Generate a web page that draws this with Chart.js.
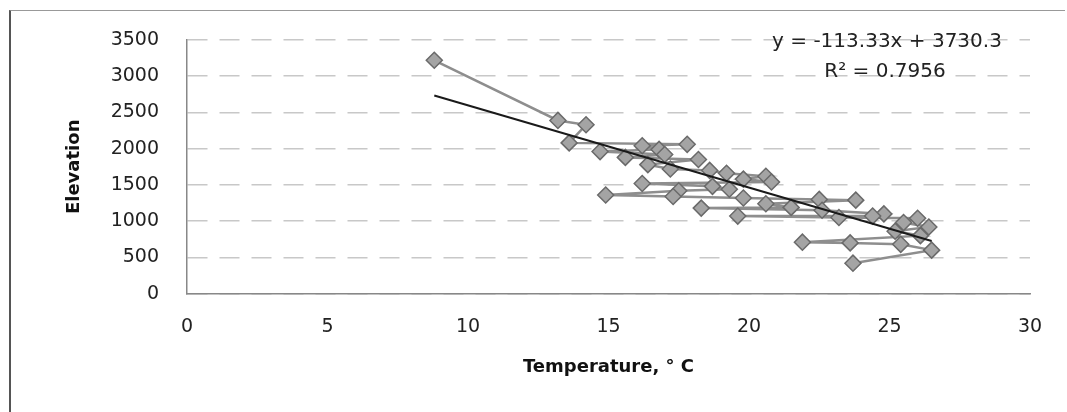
<!DOCTYPE html>
<html>
<head>
<meta charset="utf-8">
<script src="https://cdn.jsdelivr.net/npm/chart.js@4.4.1/dist/chart.umd.min.js"></script>
<style>
  html,body{margin:0;padding:0;background:#fff;}
  #wrap{position:relative;width:1067px;height:412px;overflow:hidden;}
  #frame{position:absolute;left:9px;top:10px;width:1056px;height:410px;border-left:2px solid #555;border-top:1px solid #999;box-sizing:border-box;}
  canvas{position:absolute;left:0;top:0;}
  .eq{position:absolute;font-family:"DejaVu Sans",sans-serif;font-size:20px;color:#222;text-align:center;width:300px;line-height:24px;}
</style>
</head>
<body>
<div id="wrap">
  <div id="frame"></div>
  <canvas id="c" width="1067" height="412"></canvas>
  <div class="eq" style="left:737px;top:28px;">y = -113.33x + 3730.3</div>
  <div class="eq" style="left:735px;top:58px;">R² = 0.7956</div>
</div>
<script>
// Temperature (°C) and elevation, in the order the series connects them
const temperatures = [8.8,13.2,14.2,13.6,17.8,16.2,16.8,14.7,17.0,15.6,18.2,16.4,17.2,18.6,19.2,20.6,19.8,20.8,16.2,18.7,19.3,17.5,14.9,17.3,19.8,22.5,23.8,20.6,21.5,18.3,22.6,24.8,24.4,19.6,23.2,26.0,25.5,26.4,25.2,26.1,21.9,23.6,25.4,26.5,23.7];
const elevations   = [3220,2390,2330,2080,2060,2040,1990,1960,1920,1880,1850,1780,1720,1700,1660,1620,1580,1540,1520,1480,1440,1420,1360,1340,1320,1300,1290,1240,1190,1180,1150,1100,1070,1070,1050,1040,980,920,860,800,710,700,680,600,420];
const xTicks = [0,5,10,15,20,25,30];
const yTicks = [0,500,1000,1500,2000,2500,3000,3500];
const trendSlope = -113.33;
const trendIntercept = 3730.3;

const points = temperatures.map((t,i)=>({x:t,y:elevations[i]}));
const tMin = Math.min(...temperatures), tMax = Math.max(...temperatures);
const trend = [tMin,tMax].map(t=>({x:t,y:trendSlope*t+trendIntercept}));

const font = {family:"'DejaVu Sans',sans-serif", size:19};
const titleFont = {family:"'DejaVu Sans',sans-serif", size:18, weight:'bold'};

new Chart(document.getElementById('c'),{
  type:'scatter',
  data:{datasets:[
    {data:trend,showLine:true,borderColor:'#1a1a1a',borderWidth:2,pointRadius:0,order:0},
    {data:points,showLine:true,borderColor:'#8e8e8e',borderWidth:2.5,
     pointStyle:'rectRot',pointRadius:8,pointBackgroundColor:'#a4a4a4',pointBorderColor:'#6a6a6a',pointBorderWidth:1.5,order:1}
  ]},
  options:{
    responsive:false,animation:false,
    layout:{padding:{left:60,top:40,right:37,bottom:30}},
    plugins:{legend:{display:false},tooltip:{enabled:false}},
    scales:{
      x:{type:'linear',min:0,max:30,
        afterBuildTicks:(s)=>{s.ticks=xTicks.map(v=>({value:v}));},
        ticks:{color:'#222',font:font,padding:22,maxRotation:0,callback:(v)=>String(v)},
        grid:{display:false,drawTicks:false},
        border:{display:true,color:'#888',width:1.5},
        title:{display:true,text:'Temperature, ° C',color:'#111',font:titleFont,padding:{top:-4}}
      },
      y:{type:'linear',min:0,max:3500,
        afterBuildTicks:(s)=>{s.ticks=yTicks.map(v=>({value:v}));},
        afterFit:(s)=>{s.width=127;},
        ticks:{color:'#222',font:font,padding:28,callback:(v)=>String(v)},
        grid:{color:'#c8c8c8',lineWidth:1.5,drawTicks:false},
        border:{display:true,color:'#888',width:1.5,dash:[20,12]},
        title:{display:true,text:'Elevation',color:'#111',font:titleFont,padding:{bottom:0}}
      }
    }
  }
});
</script>
</body>
</html>
